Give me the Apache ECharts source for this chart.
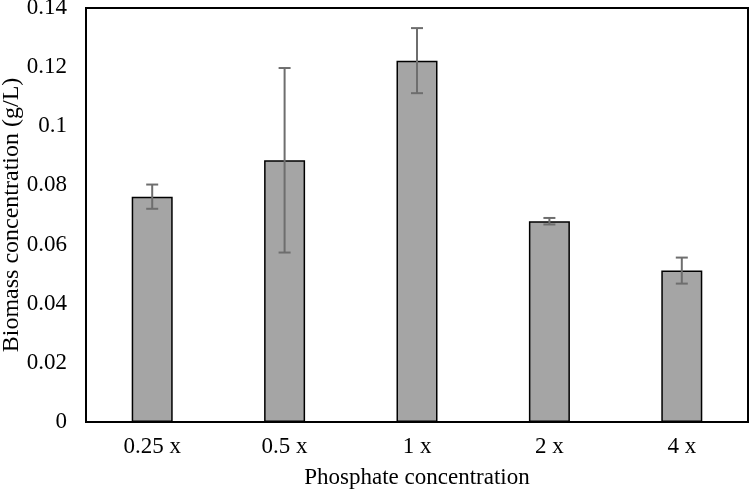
<!DOCTYPE html>
<html>
<head>
<meta charset="utf-8">
<script src="https://cdn.jsdelivr.net/npm/echarts@6/dist/echarts.min.js"></script>
<style>html,body{margin:0;padding:0;background:#fff}#c{width:750px;height:495px}</style>
</head>
<body>
<div id="c"></div>
<script>
var categories = ['0.25 x', '0.5 x', '1 x', '2 x', '4 x'];
var biomass = [0.0762, 0.0885, 0.1222, 0.0679, 0.0512];
var errors = [0.0041, 0.0312, 0.0110, 0.0011, 0.0044];
var yTicks = [0, 0.02, 0.04, 0.06, 0.08, 0.1, 0.12, 0.14];
var yTitle = 'Biomass concentration (g/L)';
var xTitle = 'Phosphate concentration';

var font = 'Liberation Serif, Times New Roman, serif';
var errData = categories.map(function (c, i) { return [i, biomass[i] - errors[i], biomass[i] + errors[i]]; });

var chart = echarts.init(document.getElementById('c'));
chart.setOption({
  animation: false,
  grid: { left: 86, right: 2, top: 8, bottom: 73, containLabel: false, outerBoundsMode: 'none',
    show: true, borderColor: '#000', borderWidth: 2, backgroundColor: 'transparent' },
  graphic: [{
    type: 'text', x: 12, y: 215, rotation: Math.PI / 2,
    style: { text: yTitle, font: '24px ' + font, fill: '#000', align: 'center', verticalAlign: 'middle' }
  }],
  xAxis: {
    type: 'category', data: categories,
    name: xTitle, nameLocation: 'middle', nameGap: 44,
    nameTextStyle: { fontFamily: font, fontSize: 23, color: '#000' },
    axisLine: { show: true, lineStyle: { color: '#000', width: 2 } },
    axisTick: { show: false },
    axisLabel: { fontFamily: font, fontSize: 23, color: '#000', margin: 13 }
  },
  yAxis: {
    type: 'value', min: yTicks[0], max: yTicks[yTicks.length - 1], interval: 0.02,
    axisLine: { show: false }, axisTick: { show: false }, splitLine: { show: false },
    axisLabel: { fontFamily: font, fontSize: 23, color: '#000', margin: 19,
      formatter: function (v) { return String(Math.round(v * 100) / 100); } }
  },
  series: [
    {
      type: 'bar', data: biomass, barWidth: 41,
      itemStyle: { color: '#a5a5a5', borderColor: '#000', borderWidth: 1.5 }
    },
    {
      type: 'custom', data: errData, z: 10,
      renderItem: function (params, api) {
        var x = api.value(0);
        var lo = api.coord([x, api.value(1)]);
        var hi = api.coord([x, api.value(2)]);
        var hw = 6;
        var st = { stroke: '#6e6e6e', lineWidth: 2 };
        return { type: 'group', children: [
          { type: 'line', shape: { x1: lo[0], y1: lo[1], x2: hi[0], y2: hi[1] }, style: st },
          { type: 'line', shape: { x1: lo[0] - hw, y1: lo[1], x2: lo[0] + hw, y2: lo[1] }, style: st },
          { type: 'line', shape: { x1: hi[0] - hw, y1: hi[1], x2: hi[0] + hw, y2: hi[1] }, style: st }
        ] };
      }
    }
  ]
});
</script>
</body>
</html>
